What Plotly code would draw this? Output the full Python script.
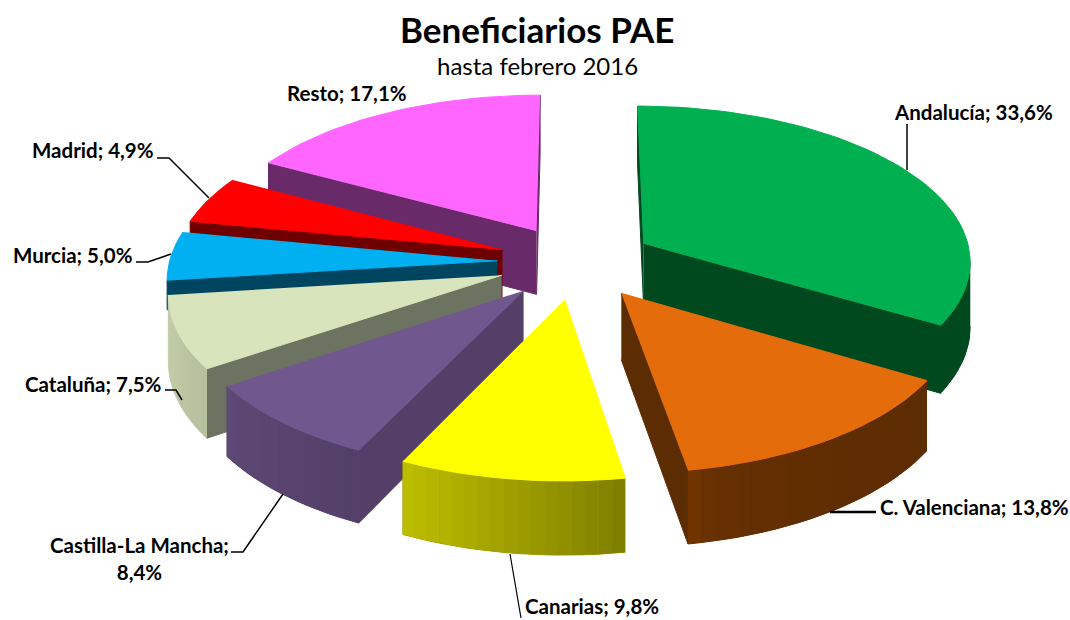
import math
import plotly.graph_objects as go

# ---- data ----
categories = ["Andalucía", "C. Valenciana", "Canarias", "Castilla-La Mancha",
              "Cataluña", "Murcia", "Madrid", "Resto"]
values = [33.6, 13.8, 9.8, 8.4, 7.5, 5.0, 4.9, 17.1]
title_text = "Beneficiarios PAE"
subtitle_text = "hasta febrero 2016"

# ---- styles ----
top_colors = ["#00B050", "#E46C0A", "#FFFF00", "#70588F", "#D8E4BC", "#00B0F0", "#FF0000", "#FF66FF"]
cut_colors = ["#00491F", "#5C2C03", "#808000", "#533F68", "#6D7361", "#004560", "#6E0000", "#682A68"]
wall_from = ["#00491F", "#6F3400", "#BDBD00", "#5E4875", "#C4CFAB", "#004560", "#6E0000", "#682A68"]
wall_to = ["#00491F", "#5C2C03", "#808000", "#534068", "#B6C09E", "#004560", "#6E0000", "#682A68"]
wall_gamma = [1, 0.3, 1, 1, 1, 1, 1, 1]
wall_height = [1, 1, 1, 1, 1, 0.45, 1, 1]

# label centres and leader polylines (page pixels)
label_pos = [(973, 112), (974, 507), (592, 606), (139, 558), (93, 384), (73, 255), (93, 150), (347, 93)]
leaders = [
    [(907, 124), (907, 170)],
    [(830, 512), (876, 512)],
    [(510, 554), (521, 618)],
    [(231, 552), (243, 552), (283, 494)],
    [(165, 390), (176, 390), (182, 400)],
    [(136, 262), (148, 262), (171, 254)],
    [(157, 158), (169, 158), (209, 198)],
    [],
]
leader_width = [1.5, 2.5, 1.2, 1.5, 1.5, 1.5, 1.5, 0]

# projection parameters
CX, CY = 576, 262
BX, AY = 328, 155
PERSP = 0.10
HEIGHT = 65
EXPLODE = 0.24
STEP_DEG = 2


def project(x, y, z=0.0):
    w = 1 + PERSP * y
    return CX + BX * x / w, CY - AY * y / w + z * HEIGHT / w


def mix(c1, c2, t):
    a = [int(c1[i:i + 2], 16) for i in (1, 3, 5)]
    b = [int(c2[i:i + 2], 16) for i in (1, 3, 5)]
    return "#%02X%02X%02X" % tuple(round(p + (q - p) * t) for p, q in zip(a, b))


def poly(fig, pts, color, width=1.0):
    fig.add_trace(go.Scatter(
        x=[p[0] for p in pts], y=[p[1] for p in pts], mode="lines", fill="toself",
        fillcolor=color, line=dict(color=color, width=width), hoverinfo="skip", showlegend=False))


def side(p, q, r):
    return (q[0] - p[0]) * (r[1] - p[1]) - (q[1] - p[1]) * (r[0] - p[0])


def faces_viewer(p, q, inside):
    """An extruded edge p-q shows if going down leaves the top face."""
    below = (p[0], p[1] + 10)
    return side(p, q, below) * side(p, q, inside) < 0


total = sum(values)
slices = []
acc = 0.0
for i, v in enumerate(values):
    a0 = acc / total * 2 * math.pi
    acc += v
    a1 = acc / total * 2 * math.pi
    mid = (a0 + a1) / 2
    slices.append(dict(i=i, a0=a0, a1=a1, ox=EXPLODE * math.sin(mid), oy=EXPLODE * math.cos(mid)))

fig = go.Figure()

# far slices are painted first so nearer ones cover them
for s in sorted(slices, key=lambda q: -q["oy"]):
    i = s["i"]
    z = wall_height[i]
    n = max(2, int(math.degrees(s["a1"] - s["a0"]) / STEP_DEG))
    angs = [s["a0"] + (s["a1"] - s["a0"]) * k / n for k in range(n + 1)]
    rim = [(s["ox"] + math.sin(a), s["oy"] + math.cos(a)) for a in angs]
    apex = (s["ox"], s["oy"])
    pa = project(*apex)

    # cut faces
    for end, other in ((rim[0], rim[-1]), (rim[-1], rim[0])):
        if faces_viewer(pa, project(*end), project(*other)):
            poly(fig, [pa, project(*end), project(*end, z), project(*apex, z)], cut_colors[i])
    # outer wall: one base shape, then shaded strips on it
    ordered = sorted(range(n), key=lambda k: project(*rim[k])[0])
    visible = [k for k in range(n) if faces_viewer(project(*rim[k]), project(*rim[k + 1]), pa)]
    if visible:
        upper = [project(*rim[k]) for k in visible] + [project(*rim[visible[-1] + 1])]
        lower = [project(*rim[k], z) for k in visible] + [project(*rim[visible[-1] + 1], z)]
        poly(fig, upper + lower[::-1], mix(wall_from[i], wall_to[i], 0.5 ** (1 / wall_gamma[i])))
    for rank, k in enumerate(ordered):
        if k in visible:
            col = mix(wall_from[i], wall_to[i], (rank / max(1, n - 1)) ** wall_gamma[i])
            poly(fig, [project(*rim[k]), project(*rim[k + 1]), project(*rim[k + 1], z), project(*rim[k], z)],
                 col, width=0)
    # top face
    poly(fig, [pa] + [project(*p) for p in rim], top_colors[i])

# leader lines
for pts, w in zip(leaders, leader_width):
    if pts:
        fig.add_trace(go.Scatter(x=[p[0] for p in pts], y=[p[1] for p in pts], mode="lines",
                                 line=dict(color="#000000", width=w), hoverinfo="skip", showlegend=False))

FONT = "Lato, Carlito, Calibri, sans-serif"
annotations = [
    dict(x=537, y=29, text=f"<b>{title_text}</b>", font=dict(size=35, family=FONT, color="#000000")),
    dict(x=537, y=65, text=subtitle_text, font=dict(size=24, family=FONT, color="#000000")),
]
for cat, v, (lx, ly) in zip(categories, values, label_pos):
    sep = ";<br>" if cat == "Castilla-La Mancha" else "; "
    txt = f"{cat}{sep}{v:.1f}%".replace(".", ",").replace("C, V", "C. V")
    annotations.append(dict(x=lx, y=ly, text=f"<b>{txt}</b>",
                            font=dict(size=20.5, family=FONT, color="#000000")))
for a in annotations:
    a.update(xref="x", yref="y", showarrow=False, xanchor="center", yanchor="middle")

fig.update_layout(
    width=1070, height=620, margin=dict(l=0, r=0, t=0, b=0),
    paper_bgcolor="#FFFFFF", plot_bgcolor="#FFFFFF", showlegend=False,
    xaxis=dict(range=[0, 1070], visible=False, fixedrange=True),
    yaxis=dict(range=[620, 0], visible=False, fixedrange=True),
    annotations=annotations,
)
fig.write_html("out.html", config={"displayModeBar": False},
               post_script="document.body.style.margin='0';document.body.style.overflow='hidden';")
